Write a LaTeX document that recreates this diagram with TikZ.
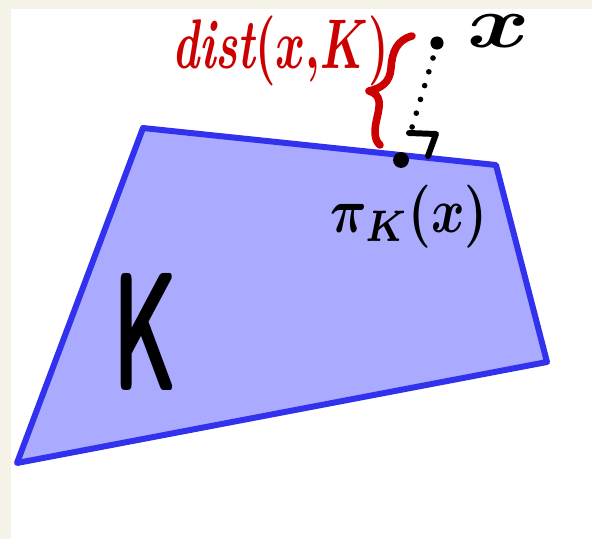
\documentclass[tikz,border=0pt]{standalone}
\usepackage{graphicx}
\usetikzlibrary{calc}
\definecolor{cream}{RGB}{245,243,232}
\definecolor{setfill}{RGB}{170,170,255}
\definecolor{setedge}{RGB}{50,50,238}
\definecolor{distred}{RGB}{204,0,0}
\tikzset{
  px/.style={x=0.02cm,y=-0.02cm},
  setshape/.style={draw=setedge,fill=setfill,line width=3.4pt,line join=round},
  ptdot/.style={circle,fill=black,inner sep=0pt,minimum size=#1},
  marker/.style={line width=#1,line cap=round,line join=round},
  hand/.style={inner sep=0pt,font=\boldmath},
}
\begin{document}
\begin{tikzpicture}[px]
\useasboundingbox (0,0) rectangle (592,539);
\fill[cream] (0,0) rectangle (592,539);
\fill[white] (11,9) rectangle (592,539);
% convex set K
\draw[setshape] (143,128) -- (496,165) -- (547,362) -- (17,463) -- cycle;
% points
\node[ptdot=7.5pt] (x) at (437,43) {};
\node[ptdot=9pt] (p) at (401,160) {};
\coordinate (xs) at (433,58);
\coordinate (ps) at (410,134);
\draw[marker=3.2pt,dash pattern=on 0pt off 8.2pt] (xs) -- (ps);
% right-angle mark
\coordinate (r1) at (409,133);
\coordinate (r2) at (436,134);
\coordinate (r3) at (428,156);
\draw[marker=3.4pt] (r1) -- (r2) -- (r3);
% labels
\node[hand,anchor=base west] (xl) at (467,47) {\scalebox{5.4}[4.2]{$x$}};
\node[hand,anchor=base west] (pl) at (330,232) {\scalebox{2.9}[3.6]{$\pi_{K}(x)$}};
\node[inner sep=0pt,anchor=base west] (Kl) at (113,390) {\scalebox{4.8}[9.6]{\textsf{\textbf{K}}}};
\node[hand,anchor=base west,text=distred] (dl) at (172,68) {\scalebox{2.6}[4.0]{\bfseries\itshape dist$(x{,}K)$}};
% red brace
\coordinate (b1) at (412,36);
\coordinate (btip) at (369,91);
\coordinate (b2) at (380,145);
\draw[distred,marker=4.3pt] (b1) .. controls (397,40) and (392,52) .. (391,68)
  .. controls (390,82) and (382,88) .. (btip)
  .. controls (382,95) and (380,105) .. (377,118)
  .. controls (374,130) and (374,140) .. (b2);
\end{tikzpicture}
\end{document}
